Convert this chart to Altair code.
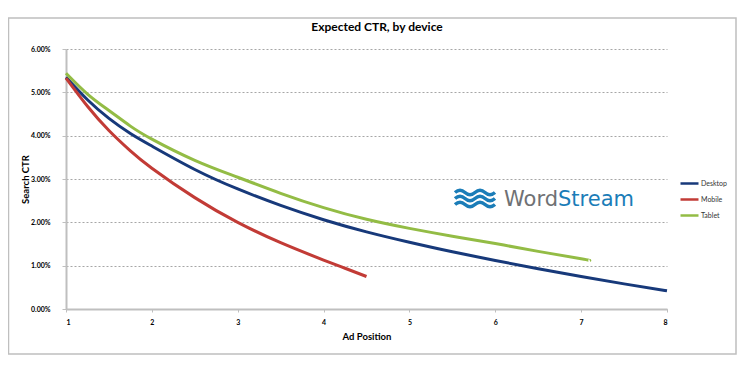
import altair as alt
import pandas as pd

devices = ["Desktop", "Mobile", "Tablet"]
colors = ["#17397A", "#C23B36", "#93BC45"]

desktop_pos = [1, 1.25, 1.5, 1.75, 2, 2.5, 3, 3.5, 4, 4.5, 5, 5.5, 6, 6.5, 7, 7.5, 8]
desktop_ctr = [5.35, 4.83, 4.40, 4.05, 3.76, 3.22, 2.77, 2.39, 2.06, 1.78, 1.54, 1.32, 1.12, 0.93, 0.75, 0.58, 0.42]

mobile_pos = [1, 1.25, 1.5, 1.75, 2, 2.5, 3, 3.5, 4, 4.25, 4.5]
mobile_ctr = [5.33, 4.68, 4.12, 3.65, 3.25, 2.57, 2.00, 1.53, 1.13, 0.94, 0.75]

tablet_pos = [1, 1.25, 1.5, 1.75, 2, 2.5, 3, 3.5, 4, 4.5, 5, 5.5, 6, 6.5, 7, 7.1]
tablet_ctr = [5.44, 4.96, 4.58, 4.22, 3.92, 3.43, 3.04, 2.67, 2.34, 2.07, 1.86, 1.68, 1.51, 1.33, 1.16, 1.12]

x_ticks = [1, 2, 3, 4, 5, 6, 7, 8]
y_ticks = [0, 0.01, 0.02, 0.03, 0.04, 0.05, 0.06]

rows = []
for name, xs, ys in [("Desktop", desktop_pos, desktop_ctr),
                     ("Mobile", mobile_pos, mobile_ctr),
                     ("Tablet", tablet_pos, tablet_ctr)]:
    for x, y in zip(xs, ys):
        rows.append({"device": name, "position": x, "ctr": y / 100.0})
df = pd.DataFrame(rows)

one = pd.DataFrame({"k": [0]})

frame = alt.Chart(one).mark_rect(fill="white", fillOpacity=0, stroke="#BFBFBF", strokeWidth=1.5).encode(
    x=alt.value(-57.5), x2=alt.value(670), y=alt.value(-31), y2=alt.value(305)
)

lines = alt.Chart(df).mark_line(strokeWidth=3, interpolate="natural").encode(
    x=alt.X("position:Q",
            scale=alt.Scale(domain=[1, 8], nice=False, zero=False),
            axis=alt.Axis(values=x_ticks, format="d", title="Ad Position", grid=False,
                          labelFont="Lato", labelFontSize=7, labelFontWeight="bold", labelColor="#000",
                          titleFont="Lato", titleFontSize=9.5, titleFontWeight="bold", titleColor="#000",
                          domainColor="#BFBFBF", domainWidth=2, tickColor="#BFBFBF", tickSize=3,
                          labelPadding=6, titlePadding=6)),
    y=alt.Y("ctr:Q",
            scale=alt.Scale(domain=[0, 0.06], nice=False),
            axis=alt.Axis(values=y_ticks, format=".2%", title="Search CTR", grid=True,
                          gridDash=[2, 2], gridColor="#A6A6A6", gridWidth=1,
                          labelFont="Lato", labelFontSize=7, labelFontWeight="bold", labelColor="#000",
                          titleFont="Lato", titleFontSize=9.5, titleFontWeight="bold", titleColor="#000",
                          domainColor="#BFBFBF", domainWidth=2, tickColor="#BFBFBF", tickSize=4,
                          labelPadding=12, titlePadding=0)),
    color=alt.Color("device:N", scale=alt.Scale(domain=devices, range=colors),
                    legend=alt.Legend(orient="none", legendX=613, legendY=124, title=None,
                                      symbolType="stroke", symbolSize=324, symbolStrokeWidth=2.5,
                                      labelFont="Lato", labelFontSize=7, labelColor="#333",
                                      labelOffset=1, rowPadding=-3)),
)

title = alt.Chart(one).mark_text(text="Expected CTR, by device", font="Lato", fontSize=12,
                                 fontWeight="bold", align="center", baseline="middle",
                                 color="#000").encode(x=alt.value(311), y=alt.value(-22))

wave_path = " ".join(
    f"M-1,{y0} Q-0.75,{y0 - 0.22} -0.5,{y0} T0,{y0} T0.5,{y0} T1,{y0}"
    for y0 in (-0.3, 0.0, 0.3)
)
waves = alt.Chart(one).mark_point(shape=wave_path, filled=False, stroke="#1B7DB8",
                                  strokeWidth=3.5, size=1600, opacity=1).encode(
    x=alt.value(409), y=alt.value(149.5)
)
word = alt.Chart(one).mark_text(text="Word", font="DejaVu Sans", fontSize=21, align="right",
                                baseline="alphabetic", color="#6F7174").encode(
    x=alt.value(492), y=alt.value(156.5)
)
stream = alt.Chart(one).mark_text(text="Stream", font="DejaVu Sans", fontSize=21, align="left",
                                  baseline="alphabetic", color="#1B7DB8").encode(
    x=alt.value(492), y=alt.value(156.5)
)

chart = alt.layer(frame, lines, title, waves, word, stream).properties(
    width=601, height=260,
    autosize=alt.AutoSizeParams(type="none"),
    padding={"left": 58, "top": 41, "right": 71, "bottom": 47},
    background="white",
).configure_view(strokeWidth=0)

chart.save("out.html", embed_options={"renderer": "svg", "actions": False})
